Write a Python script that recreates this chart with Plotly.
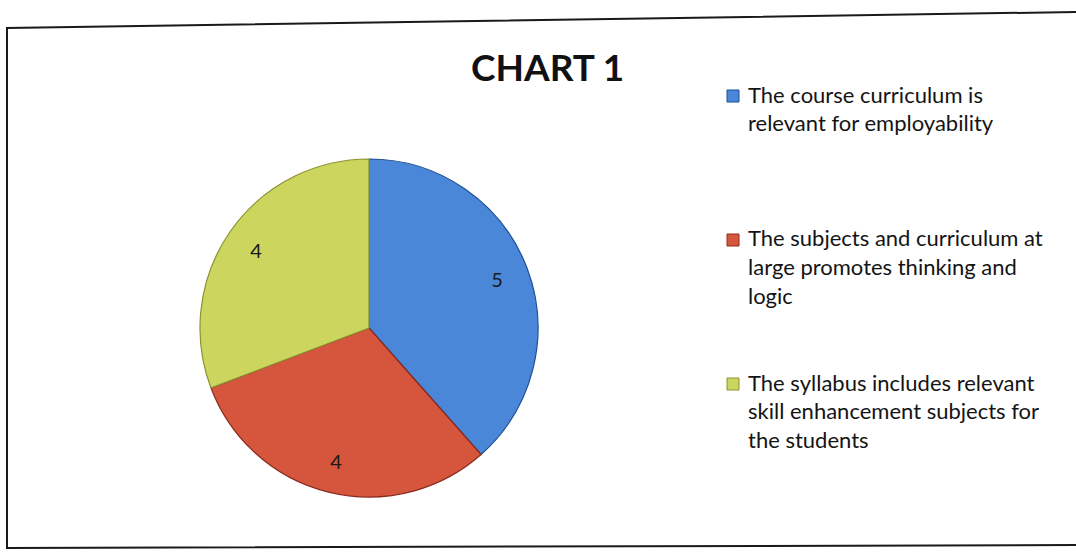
import plotly.graph_objects as go

W, H = 1076, 558

title_text = "CHART 1"
labels = [
    "The course curriculum is<br>relevant for employability",
    "The subjects and curriculum at<br>large promotes thinking and<br>logic",
    "The syllabus includes relevant<br>skill enhancement subjects for<br>the students",
]
values = [5, 4, 4]
colors = ["#4b87d8", "#d6553d", "#ccd55e"]
edge_colors = ["#1f4f95", "#8a2a1c", "#8c9330"]


def px(x):
    return x / W


def py(y):
    return 1 - y / H


dom_x = [px(200), px(538)]
dom_y = [py(497), py(159)]

fig = go.Figure()

fig.add_trace(go.Pie(
    labels=[l.replace("<br>", " ") for l in labels],
    values=values,
    sort=False,
    direction="clockwise",
    rotation=0,
    marker=dict(colors=colors, line=dict(color=edge_colors, width=1.2)),
    textinfo="none",
    hoverinfo="label+value",
    showlegend=False,
    domain=dict(x=dom_x, y=dom_y),
))

# overlay ring used only to place the value labels near the rim
fig.add_trace(go.Pie(
    labels=[l.replace("<br>", " ") for l in labels],
    values=values,
    sort=False,
    direction="clockwise",
    rotation=0,
    hole=0.62,
    marker=dict(colors=["rgba(0,0,0,0)"] * len(values), line=dict(width=0)),
    textinfo="value",
    textposition="inside",
    insidetextorientation="horizontal",
    textfont=dict(family="Lato", size=20, color="#1a1a1a"),
    hoverinfo="skip",
    showlegend=False,
    domain=dict(x=dom_x, y=dom_y),
))

annotations = [dict(
    text="<b>" + title_text + "</b>",
    x=px(547), y=py(66), xref="paper", yref="paper",
    xanchor="center", yanchor="middle", showarrow=False,
    font=dict(family="Lato", size=37, color="#111111"),
)]

shapes = []
first_baselines = [101, 245, 389]
line_gap = 28.5
for i, lab in enumerate(labels):
    b0 = first_baselines[i]
    shapes.append(dict(
        type="rect", xref="paper", yref="paper",
        x0=px(727), x1=px(739), y0=py(b0 + 1), y1=py(b0 - 11),
        fillcolor=colors[i], line=dict(color=edge_colors[i], width=1),
    ))
    for j, line in enumerate(lab.split("<br>")):
        annotations.append(dict(
            text=line, x=px(746), y=py(b0 + j * line_gap - 7),
            xref="paper", yref="paper", xanchor="left", yanchor="middle",
            showarrow=False,
            font=dict(family="Lato", size=22, color="#141414"),
        ))

# chart frame (scanned, slightly tilted)
shapes.append(dict(
    type="path", xref="paper", yref="paper",
    path=f"M {px(1076)},{py(12)} L {px(7)},{py(28)} L {px(7)},{py(548)} L {px(1076)},{py(545)}",
    line=dict(color="#1a1a1a", width=2),
))

fig.update_layout(
    width=W, height=H,
    margin=dict(l=0, r=0, t=0, b=0),
    paper_bgcolor="white",
    plot_bgcolor="white",
    annotations=annotations,
    shapes=shapes,
    showlegend=False,
)

fig.write_html(
    "out.html",
    config={"displayModeBar": False},
    post_script="document.body.style.margin='0';document.body.style.overflow='hidden';",
)
